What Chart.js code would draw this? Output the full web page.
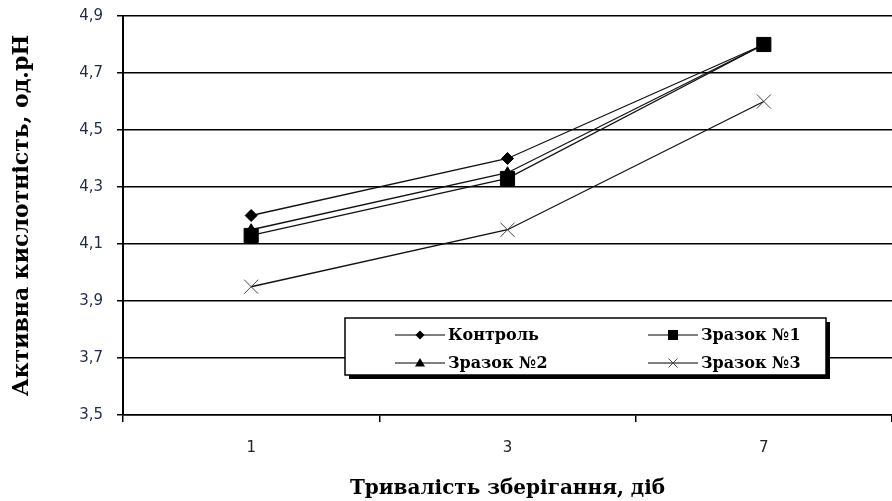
<!DOCTYPE html>
<html><head><meta charset="utf-8">
<script src="https://cdn.jsdelivr.net/npm/chart.js@4"></script>
<style>html,body{margin:0;padding:0;background:#fff}#wrap{width:892px;height:501px}</style>
</head><body><div id="wrap"><canvas id="c" width="892" height="501"></canvas></div>
<script>
const categories = ['1', '3', '7'];
const control = [4.20, 4.40, 4.80];
const sample1 = [4.13, 4.33, 4.80];
const sample2 = [4.15, 4.35, 4.80];
const sample3 = [3.95, 4.15, 4.60];
const yTicks = [3.5, 3.7, 3.9, 4.1, 4.3, 4.5, 4.7, 4.9];
const seriesNames = ['Контроль', 'Зразок №1', 'Зразок №2', 'Зразок №3'];
const xTitle = 'Тривалість зберігання, діб';
const yTitle = 'Активна кислотність, од.рН';

function drawMarker(ctx, style, x, y, s, color) {
  ctx.save();
  ctx.fillStyle = color; ctx.strokeStyle = color; ctx.lineWidth = 1;
  ctx.beginPath();
  if (style === 'rectRot') {
    ctx.moveTo(x - s, y); ctx.lineTo(x, y - s); ctx.lineTo(x + s, y); ctx.lineTo(x, y + s); ctx.closePath(); ctx.fill();
  } else if (style === 'rect') {
    ctx.rect(x - s, y - s, 2 * s, 2 * s); ctx.fill();
  } else if (style === 'triangle') {
    ctx.moveTo(x - s, y + s * 0.7); ctx.lineTo(x, y - s); ctx.lineTo(x + s, y + s * 0.7); ctx.closePath(); ctx.fill();
  } else {
    ctx.moveTo(x - s, y - s); ctx.lineTo(x + s, y + s); ctx.moveTo(x + s, y - s); ctx.lineTo(x - s, y + s); ctx.stroke();
  }
  ctx.restore();
}

const legendPlugin = {
  id: 'boxLegend',
  afterDraw(chart) {
    const ctx = chart.ctx;
    const x0 = 345, y0 = 318, w = 481, h = 57;
    ctx.save();
    ctx.fillStyle = '#000';
    ctx.fillRect(x0 + 4, y0 + 4, w, h);
    ctx.fillStyle = '#fff';
    ctx.fillRect(x0, y0, w, h);
    ctx.strokeStyle = '#000'; ctx.lineWidth = 1.5;
    ctx.strokeRect(x0, y0, w, h);
    const styles = ['rectRot', 'rect', 'triangle', 'crossRot'];
    const sizes = [4.5, 5, 5, 4.5];
    const colors = ['#000', '#000', '#000', '#444'];
    const colX = [395, 648], rowY = [335, 363];
    ctx.font = 'bold 16px "DejaVu Serif"';
    ctx.textBaseline = 'middle';
    chart.data.datasets.forEach((ds, i) => {
      const lx = colX[i % 2], ly = rowY[Math.floor(i / 2)];
      ctx.strokeStyle = '#000'; ctx.lineWidth = 1.2;
      ctx.beginPath(); ctx.moveTo(lx, ly); ctx.lineTo(lx + 50, ly); ctx.stroke();
      drawMarker(ctx, styles[i], lx + 25, ly, sizes[i], colors[i]);
      ctx.fillStyle = '#000';
      ctx.fillText(ds.label, lx + 53, ly + 1);
    });
    ctx.restore();
  }
};

const mk = (label, data, style, radius, pcolor) => ({
  label, data, borderColor: '#111', borderWidth: 1.3, tension: 0, fill: false,
  pointStyle: style, pointRadius: radius, pointHoverRadius: radius,
  pointBackgroundColor: pcolor, pointBorderColor: pcolor, pointBorderWidth: 1
});

new Chart(document.getElementById('c'), {
  type: 'line',
  data: {
    labels: categories,
    datasets: [
      mk(seriesNames[0], control, 'rectRot', 6, '#000'),
      mk(seriesNames[1], sample1, 'rect', 10, '#000'),
      mk(seriesNames[2], sample2, 'triangle', 6, '#000'),
      mk(seriesNames[3], sample3, 'crossRot', 10, '#444')
    ]
  },
  options: {
    responsive: false, animation: false, devicePixelRatio: 1,
    layout: { autoPadding: false, padding: { left: 0, right: 0, top: 16, bottom: 0 } },
    plugins: { legend: { display: false }, tooltip: { enabled: false } },
    scales: {
      x: {
        type: 'category', offset: true,
        grid: { drawOnChartArea: false, drawTicks: true, tickLength: 7, color: '#000', lineWidth: 1.5, offset: true },
        border: { display: true, color: '#000', width: 1.5 },
        ticks: { font: { family: 'DejaVu Sans', size: 15 }, color: '#222', padding: 17 },
        title: { display: true, text: xTitle, color: '#000', font: { family: 'DejaVu Serif', weight: 'bold', size: 20 }, padding: { top: 2, bottom: 0 } },
        afterFit: s => { s.height = 86; s.paddingLeft = 0; s.paddingRight = 0; }
      },
      y: {
        min: 3.5, max: 4.9,
        afterBuildTicks: s => { s.ticks = yTicks.map(v => ({ value: v })); },
        ticks: { callback: v => Number(v).toFixed(1).replace('.', ','), font: { family: 'DejaVu Sans', size: 15 }, color: '#1e2a46', padding: 14 },
        grid: { color: '#000', lineWidth: 1.5, tickLength: 6, drawTicks: true },
        border: { display: true, color: '#000', width: 2 },
        title: { display: true, text: yTitle, color: '#000', font: { family: 'DejaVu Serif', weight: 'bold', size: 22 }, padding: { top: 9, bottom: 0 } },
        afterFit: s => { s.width = 123; s.paddingTop = 0; s.paddingBottom = 0; }
      }
    }
  },
  plugins: [legendPlugin]
});
</script></body></html>
